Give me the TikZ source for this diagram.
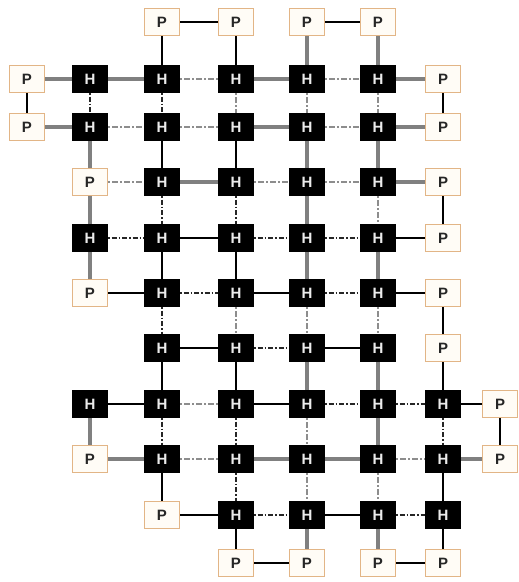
\documentclass[tikz,border=0pt]{standalone}
\usepackage{fontspec}
\setsansfont{Liberation Sans}
\definecolor{portedge}{HTML}{E2B586}
\definecolor{portfill}{HTML}{FFFCF6}
\definecolor{linkgray}{HTML}{808080}
\begin{document}
\begin{tikzpicture}[x=1pt,y=-1pt,
  hub/.style={rectangle, fill=black, text=white!92!black, minimum width=36pt, minimum height=28pt, inner sep=0pt,
    font=\sffamily\bfseries\fontsize{15}{15}\selectfont},
  port/.style={rectangle, draw=portedge, line width=1.3pt, fill=portfill, text=black!85, minimum width=35pt,
    minimum height=27pt, inner sep=0pt, font=\sffamily\bfseries\fontsize{15}{15}\selectfont},
  sl/.style={draw=black, line width=1.5pt},
  gl/.style={draw=linkgray, line width=3.2pt},
  dk/.style={draw=black!85, line width=1.4pt, dash pattern=on 1.5pt off 2pt on 5pt off 2pt},
  dg/.style={draw=linkgray!90, line width=2.4pt, dash pattern=on 2pt off 2pt on 6pt off 2pt}
]
\useasboundingbox (0,0) rectangle (519,582);
\def\xs{{27,90,162,236,307,378,443,500}}
\def\ys{{22,79,127,182,238,293,348,404,459,515,563}}
% nodes: row/col/kind
\foreach \r/\c/\k in {
  0/2/port,0/3/port,0/4/port,0/5/port,
  1/0/port,1/1/hub,1/2/hub,1/3/hub,1/4/hub,1/5/hub,1/6/port,
  2/0/port,2/1/hub,2/2/hub,2/3/hub,2/4/hub,2/5/hub,2/6/port,
  3/1/port,3/2/hub,3/3/hub,3/4/hub,3/5/hub,3/6/port,
  4/1/hub,4/2/hub,4/3/hub,4/4/hub,4/5/hub,4/6/port,
  5/1/port,5/2/hub,5/3/hub,5/4/hub,5/5/hub,5/6/port,
  6/2/hub,6/3/hub,6/4/hub,6/5/hub,6/6/port,
  7/1/hub,7/2/hub,7/3/hub,7/4/hub,7/5/hub,7/6/hub,7/7/port,
  8/1/port,8/2/hub,8/3/hub,8/4/hub,8/5/hub,8/6/hub,8/7/port,
  9/2/port,9/3/hub,9/4/hub,9/5/hub,9/6/hub,
  10/3/port,10/4/port,10/5/port,10/6/port}{
  \pgfmathsetmacro\xx{\xs[\c]}
  \pgfmathsetmacro\yy{\ys[\r]}
  \ifnum\pdfstrcmp{\k}{hub}=0
    \node[hub] (r\r c\c) at (\xx,\yy) {H};
  \else
    \node[port] (r\r c\c) at (\xx,\yy) {P};
  \fi
}
% links
\foreach \s/\a/\b in {
  sl/r0c2/r0c3, sl/r0c4/r0c5,
  sl/r0c2/r1c2, sl/r0c3/r1c3, gl/r0c4/r1c4, gl/r0c5/r1c5,
  gl/r1c0/r1c1, gl/r1c1/r1c2, dg/r1c2/r1c3, gl/r1c3/r1c4, dg/r1c4/r1c5, gl/r1c5/r1c6,
  sl/r1c0/r2c0, dk/r1c1/r2c1, dk/r1c2/r2c2, dg/r1c3/r2c3, dg/r1c4/r2c4, dg/r1c5/r2c5, sl/r1c6/r2c6,
  gl/r2c0/r2c1, dg/r2c1/r2c2, dg/r2c2/r2c3, gl/r2c3/r2c4, dg/r2c4/r2c5, gl/r2c5/r2c6,
  gl/r2c1/r3c1, sl/r2c2/r3c2, sl/r2c3/r3c3, gl/r2c4/r3c4, gl/r2c5/r3c5,
  dg/r3c1/r3c2, gl/r3c2/r3c3, dg/r3c3/r3c4, dg/r3c4/r3c5, gl/r3c5/r3c6,
  gl/r3c1/r4c1, dk/r3c2/r4c2, dk/r3c3/r4c3, gl/r3c4/r4c4, dg/r3c5/r4c5, sl/r3c6/r4c6,
  dk/r4c1/r4c2, sl/r4c2/r4c3, dk/r4c3/r4c4, dk/r4c4/r4c5, sl/r4c5/r4c6,
  gl/r4c1/r5c1, sl/r4c2/r5c2, sl/r4c3/r5c3, gl/r4c4/r5c4, gl/r4c5/r5c5,
  sl/r5c1/r5c2, dk/r5c2/r5c3, sl/r5c3/r5c4, dk/r5c4/r5c5, sl/r5c5/r5c6,
  dk/r5c2/r6c2, dg/r5c3/r6c3, dg/r5c4/r6c4, dg/r5c5/r6c5, sl/r5c6/r6c6,
  sl/r6c2/r6c3, dk/r6c3/r6c4, sl/r6c4/r6c5,
  sl/r6c2/r7c2, sl/r6c3/r7c3, gl/r6c4/r7c4, gl/r6c5/r7c5, sl/r6c6/r7c6,
  sl/r7c1/r7c2, dg/r7c2/r7c3, sl/r7c3/r7c4, dk/r7c4/r7c5, dk/r7c5/r7c6, sl/r7c6/r7c7,
  gl/r7c1/r8c1, dk/r7c2/r8c2, dk/r7c3/r8c3, dg/r7c4/r8c4, gl/r7c5/r8c5, dk/r7c6/r8c6, sl/r7c7/r8c7,
  gl/r8c1/r8c2, dg/r8c2/r8c3, gl/r8c3/r8c4, gl/r8c4/r8c5, dg/r8c5/r8c6, gl/r8c6/r8c7,
  sl/r8c2/r9c2, dk/r8c3/r9c3, dg/r8c4/r9c4, dg/r8c5/r9c5, sl/r8c6/r9c6,
  sl/r9c2/r9c3, dk/r9c3/r9c4, sl/r9c4/r9c5, dk/r9c5/r9c6,
  sl/r9c3/r10c3, gl/r9c4/r10c4, gl/r9c5/r10c5, sl/r9c6/r10c6,
  sl/r10c3/r10c4, sl/r10c5/r10c6}{
  \draw[\s] (\a) -- (\b);
}
\end{tikzpicture}
\end{document}
